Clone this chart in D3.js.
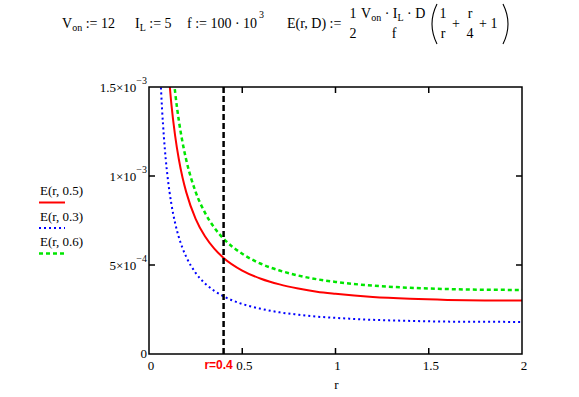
<!DOCTYPE html>
<meta charset="utf-8">
<style>
body { margin: 0; background: #fff; }
svg { display: block; }
text { font-family: "Liberation Serif", "Times New Roman", serif; fill: #000; }
.math { font-size: 14px; }
.tick-label { font-size: 13px; }
.frame { fill: none; stroke: #000; stroke-width: 1.5px; }
.ticks line { stroke: #000; stroke-width: 1.5px; }
.marker { stroke: #000; stroke-width: 2.5px; stroke-dasharray: 6 3; }
.r-label { font-family: "Liberation Sans", Arial, sans-serif; font-weight: bold; font-size: 12px; fill: #f00; }
</style>

<svg id="chart" width="579" height="397"></svg>

<script src="https://cdn.jsdelivr.net/npm/d3@7"></script>
<script>
var rRed   = [0.1, 0.12, 0.14, 0.16, 0.18, 0.2, 0.25, 0.3, 0.35, 0.4, 0.5, 0.6, 0.7, 0.8, 0.9, 1.0, 1.2, 1.4, 1.6, 1.8, 2.0];
var eRed   = [1.654e-3, 1.404e-3, 1.227e-3, 1.094e-3, 9.90e-4, 9.08e-4, 7.59e-4, 6.61e-4, 5.92e-4, 5.40e-4, 4.69e-4, 4.23e-4, 3.91e-4, 3.68e-4, 3.50e-4, 3.38e-4, 3.20e-4, 3.10e-4, 3.04e-4, 3.01e-4, 3.00e-4];

var rBlue  = [0.05, 0.06, 0.07, 0.08, 0.09, 0.1, 0.12, 0.14, 0.16, 0.18, 0.2, 0.25, 0.3, 0.35, 0.4, 0.5, 0.6, 0.7, 0.8, 0.9, 1.0, 1.2, 1.4, 1.6, 1.8, 2.0];
var eBlue  = [1.891e-3, 1.591e-3, 1.377e-3, 1.217e-3, 1.092e-3, 9.92e-4, 8.43e-4, 7.36e-4, 6.56e-4, 5.94e-4, 5.45e-4, 4.56e-4, 3.97e-4, 3.55e-4, 3.24e-4, 2.81e-4, 2.54e-4, 2.34e-4, 2.21e-4, 2.10e-4, 2.03e-4, 1.92e-4, 1.86e-4, 1.82e-4, 1.81e-4, 1.80e-4];

var rGreen = [0.12, 0.14, 0.16, 0.18, 0.2, 0.25, 0.3, 0.35, 0.4, 0.5, 0.6, 0.7, 0.8, 0.9, 1.0, 1.2, 1.4, 1.6, 1.8, 2.0];
var eGreen = [1.685e-3, 1.472e-3, 1.312e-3, 1.188e-3, 1.089e-3, 9.11e-4, 7.94e-4, 7.10e-4, 6.48e-4, 5.63e-4, 5.07e-4, 4.69e-4, 4.41e-4, 4.20e-4, 4.05e-4, 3.84e-4, 3.72e-4, 3.65e-4, 3.61e-4, 3.60e-4];

var xTicks = [0, 0.5, 1, 1.5, 2];
var yTicks = [0, 5e-4, 1e-3, 1.5e-3];
var yTickLabels = [["0", ""], ["5×10", "−4"], ["1×10", "−3"], ["1.5×10", "−3"]];
var markerR = 0.4;

var series = [
    { name: "E(r, 0.5)", r: rRed,   e: eRed,   color: "#ff0000", width: 2,   dash: null },
    { name: "E(r, 0.3)", r: rBlue,  e: eBlue,  color: "#0000ff", width: 2,   dash: "2 3" },
    { name: "E(r, 0.6)", r: rGreen, e: eGreen, color: "#00e600", width: 2.5, dash: "4 3" }
];

var svg = d3.select("#chart");
var plot = { left: 149, right: 522, top: 87, bottom: 354 };

var x = d3.scaleLinear().domain([0, 2]).range([plot.left, plot.right]);
var y = d3.scaleLinear().domain([0, 1.5e-3]).range([plot.bottom, plot.top]);

// header: the Mathcad definitions
var head = svg.append("g").attr("class", "math");

function sub(t, main, s) {
    t.append("tspan").text(main);
    t.append("tspan").attr("font-size", "10px").attr("dy", 3).text(s);
    return t;
}

var t1 = head.append("text").attr("x", 62).attr("y", 28);
sub(t1, "V", "on");
t1.append("tspan").attr("dy", -3).text(" := 12");

var t2 = head.append("text").attr("x", 135).attr("y", 28);
sub(t2, "I", "L");
t2.append("tspan").attr("dy", -3).text(" := 5");

var t3 = head.append("text").attr("x", 187).attr("y", 28).text("f := 100 · 10");
t3.append("tspan").attr("font-size", "10px").attr("dx", 2).attr("dy", -10).text("3");

head.append("text").attr("x", 287).attr("y", 28).text("E(r, D) :=");
head.append("text").attr("x", 353).attr("y", 18).attr("text-anchor", "middle").text("1");
head.append("text").attr("x", 353).attr("y", 38).attr("text-anchor", "middle").text("2");

var num = head.append("text").attr("x", 361).attr("y", 18);
sub(num, "V", "on");
num.append("tspan").attr("dy", -3).text(" · I");
num.append("tspan").attr("font-size", "10px").attr("dy", 3).text("L");
num.append("tspan").attr("dy", -3).text(" · D");
head.append("text").attr("x", 394).attr("y", 38).attr("text-anchor", "middle").text("f");

head.append("path")
    .attr("d", "M437,4 Q427,24 437,44")
    .attr("fill", "none").attr("stroke", "#000").attr("stroke-width", 1.1);
head.append("path")
    .attr("d", "M503,4 Q513,24 503,44")
    .attr("fill", "none").attr("stroke", "#000").attr("stroke-width", 1.1);

head.append("text").attr("x", 443).attr("y", 18).attr("text-anchor", "middle").text("1");
head.append("text").attr("x", 443).attr("y", 38).attr("text-anchor", "middle").text("r");
head.append("text").attr("x", 456).attr("y", 28).attr("text-anchor", "middle").text("+");
head.append("text").attr("x", 470).attr("y", 18).attr("text-anchor", "middle").text("r");
head.append("text").attr("x", 470).attr("y", 38).attr("text-anchor", "middle").text("4");
head.append("text").attr("x", 479).attr("y", 28).text("+ 1");

// clip the curves to the plot box
svg.append("clipPath").attr("id", "clip")
   .append("rect")
   .attr("x", plot.left).attr("y", plot.top)
   .attr("width", plot.right - plot.left).attr("height", plot.bottom - plot.top);

var line = d3.line()
    .x(function(d) { return x(d[0]); })
    .y(function(d) { return y(d[1]); })
    .curve(d3.curveMonotoneX);

svg.append("g")
   .attr("clip-path", "url(#clip)")
   .selectAll("path")
   .data(series)
   .enter().append("path")
   .attr("d", function(s) { return line(s.r.map(function(v, i) { return [v, s.e[i]]; })); })
   .attr("fill", "none")
   .attr("stroke", function(s) { return s.color; })
   .attr("stroke-width", function(s) { return s.width; })
   .attr("stroke-dasharray", function(s) { return s.dash; });

// vertical marker at r = 0.4
svg.append("line")
   .attr("class", "marker")
   .attr("x1", x(markerR)).attr("x2", x(markerR))
   .attr("y1", y(1.5e-3)).attr("y2", y(0));

// frame and inward ticks on all four sides
svg.append("rect")
   .attr("class", "frame")
   .attr("x", plot.left).attr("y", plot.top)
   .attr("width", plot.right - plot.left).attr("height", plot.bottom - plot.top);

var ticks = svg.append("g").attr("class", "ticks");
var tl = 6;
xTicks.slice(1, -1).forEach(function(v) {
    ticks.append("line").attr("x1", x(v)).attr("x2", x(v)).attr("y1", plot.bottom).attr("y2", plot.bottom - tl);
    ticks.append("line").attr("x1", x(v)).attr("x2", x(v)).attr("y1", plot.top).attr("y2", plot.top + tl);
});
yTicks.slice(1, -1).forEach(function(v) {
    ticks.append("line").attr("x1", plot.left).attr("x2", plot.left + tl).attr("y1", y(v)).attr("y2", y(v));
    ticks.append("line").attr("x1", plot.right).attr("x2", plot.right - tl).attr("y1", y(v)).attr("y2", y(v));
});

// tick labels
svg.append("g")
   .selectAll("text")
   .data(xTicks)
   .enter().append("text")
   .attr("class", "tick-label")
   .attr("x", function(d) { return x(d) + 2; })
   .attr("y", plot.bottom + 16)
   .attr("text-anchor", "middle")
   .text(function(d) { return d3.format("")(d); });

yTicks.forEach(function(v, i) {
    var lab = svg.append("text")
        .attr("class", "tick-label")
        .attr("x", plot.left - 2)
        .attr("y", y(v) + (i === 0 ? 4 : 5))
        .attr("text-anchor", "end");
    lab.append("tspan").text(yTickLabels[i][0]);
    if (yTickLabels[i][1]) {
        lab.append("tspan").attr("font-size", "10px").attr("dy", -8).text(yTickLabels[i][1]);
    }
});

svg.append("text")
   .attr("class", "tick-label")
   .attr("x", x(1) + 1).attr("y", 389)
   .attr("text-anchor", "middle")
   .text("r");

svg.append("text")
   .attr("class", "r-label")
   .attr("x", x(markerR) - 5).attr("y", plot.bottom + 15)
   .attr("text-anchor", "middle")
   .text("r=" + markerR);

// legend on the left
var legend = svg.append("g")
   .selectAll("g")
   .data(series)
   .enter().append("g")
   .attr("transform", function(d, i) { return "translate(39," + (195 + i * 25.5) + ")"; });

legend.append("text")
   .attr("class", "tick-label")
   .attr("x", 1).attr("y", 0)
   .text(function(d) { return d.name; });

legend.append("line")
   .attr("x1", 0).attr("x2", 26)
   .attr("y1", 7.5).attr("y2", 7.5)
   .attr("stroke", function(d) { return d.color; })
   .attr("stroke-width", function(d) { return d.width; })
   .attr("stroke-dasharray", function(d) { return d.dash; });
</script>
